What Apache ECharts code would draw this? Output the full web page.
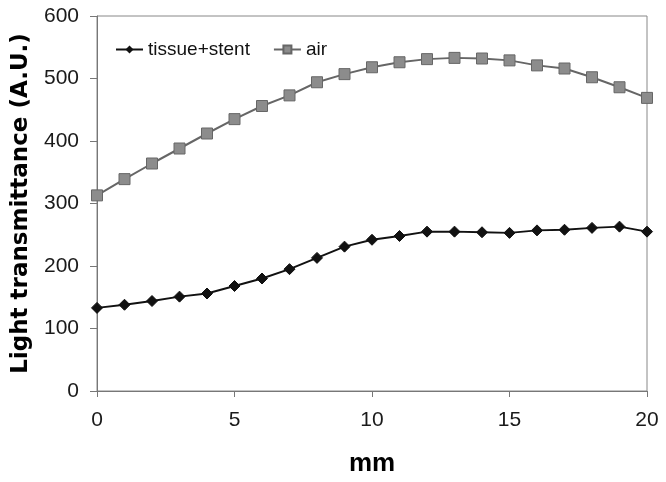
<!DOCTYPE html>
<html><head><meta charset="utf-8">
<script src="https://cdn.jsdelivr.net/npm/echarts@6/dist/echarts.min.js"></script>
<style>html,body{margin:0;padding:0;background:#fff}#c{width:666px;height:482px}</style>
</head><body><div id="c"></div>
<script>
const xValues = [0,1,2,3,4,5,6,7,8,9,10,11,12,13,14,15,16,17,18,19,20];
const tissueStent = [133,138,144,151,156,168,180,195,213,231,242,248,255,255,254,253,257,258,261,263,255];
const air = [313,339,364,388,412,435,456,473,494,507,518,526,531,533,532,529,521,516,502,486,469];
const xTicks = [0,5,10,15,20];
const yTicks = [0,100,200,300,400,500,600];

const chart = echarts.init(document.getElementById('c'), null, {renderer:'canvas'});
const font = 'Liberation Sans, Arial, sans-serif';
chart.setOption({
  animation:false,
  backgroundColor:'#fff',
  grid:{left:97,right:19,top:16,bottom:89,show:true,borderColor:'#888',borderWidth:1},
  legend:{
    left:110, top:35, itemGap:23, itemWidth:27, itemHeight:10,
    textStyle:{fontFamily:font,fontSize:19,color:'#111'},
    data:['tissue+stent','air']
  },
  xAxis:{
    type:'value', min:xTicks[0], max:xTicks[xTicks.length-1], interval:5,
    name:'mm', nameLocation:'middle', nameGap:60,
    nameTextStyle:{fontFamily:font,fontSize:26,fontWeight:'bold',color:'#000'},
    axisLine:{lineStyle:{color:'#777',width:1}},
    axisTick:{show:true,length:6,lineStyle:{color:'#777'}},
    axisLabel:{fontFamily:font,fontSize:21,color:'#1a1a1a',margin:19},
    splitLine:{show:false}
  },
  yAxis:{
    type:'value', min:yTicks[0], max:yTicks[yTicks.length-1], interval:100,
    name:'Light transmittance (A.U.)', nameLocation:'middle', nameGap:64,
    nameTextStyle:{fontFamily:'DejaVu Sans, sans-serif',fontSize:23,fontWeight:'bold',color:'#000'},
    axisLine:{show:true,lineStyle:{color:'#777',width:1}},
    axisTick:{show:true,length:7,lineStyle:{color:'#777'}},
    axisLabel:{fontFamily:font,fontSize:21,color:'#1a1a1a',margin:18},
    splitLine:{show:false}
  },
  series:[
    {
      name:'tissue+stent', type:'line',
      data:xValues.map((x,i)=>[x,tissueStent[i]]),
      symbol:'diamond', symbolSize:11,
      lineStyle:{color:'#111',width:2},
      itemStyle:{color:'#111',borderColor:'#111'},
      z:3
    },
    {
      name:'air', type:'line',
      data:xValues.map((x,i)=>[x,air[i]]),
      symbol:'rect', symbolSize:11,
      lineStyle:{color:'#666',width:2},
      itemStyle:{color:'#8c8c8c',borderColor:'#666',borderWidth:1},
      z:2
    }
  ]
});
</script></body></html>
